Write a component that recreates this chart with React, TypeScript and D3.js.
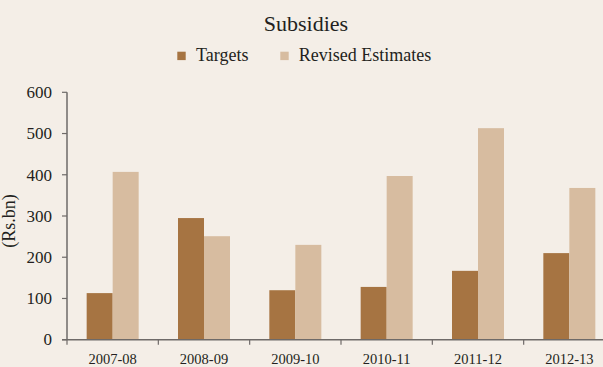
import React from "react";
import * as d3 from "d3";

const categories = ["2007-08", "2008-09", "2009-10", "2010-11", "2011-12", "2012-13"];
const targets = [113, 295, 120, 128, 167, 210];
const revised = [407, 251, 230, 397, 513, 368];
const yTicks = [0, 100, 200, 300, 400, 500, 600];
const seriesNames = ["Targets", "Revised Estimates"];

const W = 603;
const H = 367;
const BG = "#f4eee7";
const C1 = "#a67442";
const C2 = "#d7bca0";
const AXIS = "#6e6a68";
const TEXT = "#231f20";
const FONT = "'Liberation Serif', 'Times New Roman', serif";

export default function App() {
  const x = d3.scaleBand<string>().domain(categories).range([67, 615]).padding(0);
  const y = d3.scaleLinear().domain([0, 600]).range([339.7, 92.3]);
  const barW = 26;
  const bw = x.bandwidth();

  return (
    <div style={{ position: "fixed", left: 0, top: 0, width: W, height: H }}>
      <svg width={W} height={H} style={{ display: "block" }}>
        <rect x={0} y={0} width={W} height={H} fill={BG} />
        <text x={306} y={30.7} textAnchor="middle" fontFamily={FONT} fontSize={22} fill={TEXT}>
          Subsidies
        </text>
        {/* legend */}
        <rect x={177.3} y={51.7} width={8.4} height={8.4} fill={C1} />
        <text x={196} y={60.5} fontFamily={FONT} fontSize={18} fill={TEXT}>
          {seriesNames[0]}
        </text>
        <rect x={280.3} y={51.7} width={8.4} height={8.4} fill={C2} />
        <text x={298.7} y={60.5} fontFamily={FONT} fontSize={18} fill={TEXT}>
          {seriesNames[1]}
        </text>

        {/* bars */}
        {categories.map((c, i) => {
          const cx = (x(c) as number) + bw / 2;
          return (
            <g key={c}>
              <rect x={cx - barW} y={y(targets[i])} width={barW} height={y(0) - y(targets[i])} fill={C1} />
              <rect x={cx} y={y(revised[i])} width={barW} height={y(0) - y(revised[i])} fill={C2} />
            </g>
          );
        })}

        {/* y axis */}
        <line x1={67} x2={67} y1={y(600)} y2={y(0)} stroke={AXIS} strokeWidth={1.5} />
        {yTicks.map((t) => (
          <g key={t}>
            <line x1={62} x2={67} y1={y(t)} y2={y(t)} stroke={AXIS} strokeWidth={1.2} />
            <text x={52} y={y(t)} dy="0.34em" textAnchor="end" fontFamily={FONT} fontSize={17} fill={TEXT}>
              {t}
            </text>
          </g>
        ))}
        <text
          transform={`translate(15,221) rotate(-90)`}
          textAnchor="middle"
          fontFamily={FONT}
          fontSize={18}
          fill={TEXT}
        >
          (Rs.bn)
        </text>

        {/* x axis */}
        <line x1={62} x2={W} y1={y(0)} y2={y(0)} stroke={AXIS} strokeWidth={1.5} />
        {categories.map((c) => (
          <line key={"t" + c} x1={x(c) as number} x2={x(c) as number} y1={y(0)} y2={y(0) + 5} stroke={AXIS} strokeWidth={1.2} />
        ))}
        {categories.map((c) => (
          <text
            key={"l" + c}
            x={(x(c) as number) + bw / 2}
            y={364}
            textAnchor="middle"
            fontFamily={FONT}
            fontSize={14.5}
            fill={TEXT}
          >
            {c}
          </text>
        ))}
      </svg>
    </div>
  );
}
